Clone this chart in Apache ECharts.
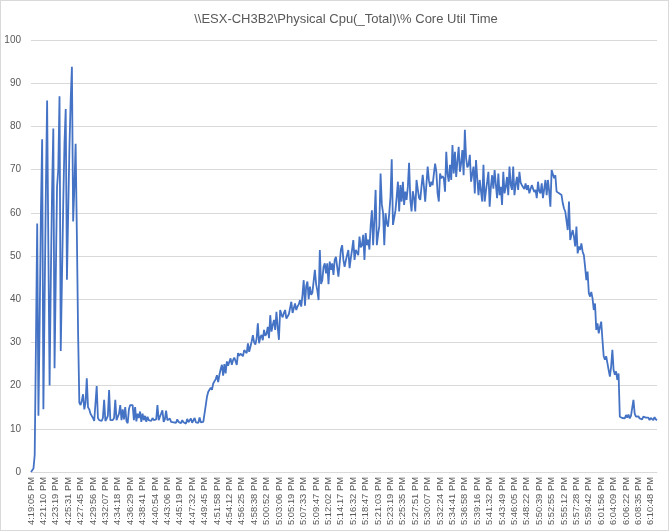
<!DOCTYPE html>
<html>
<head>
<meta charset="utf-8">
<script src="https://cdn.jsdelivr.net/npm/echarts@6/dist/echarts.min.js"></script>
<style>
html,body{margin:0;padding:0;background:#fff;}
#wrap{width:669px;height:531px;box-sizing:border-box;border:1px solid #d9d9d9;position:relative;}
#chart{position:absolute;left:-1px;top:-1px;width:669px;height:531px;}
</style>
</head>
<body>
<div id="wrap"><div id="chart"></div></div>
<script>
const chartTitle = '\\\\ESX-CH3B2\\Physical Cpu(_Total)\\% Core Util Time';
const tickLabels = ['4:19:05 PM','4:21:10 PM','4:23:19 PM','4:25:31 PM','4:27:45 PM','4:29:56 PM','4:32:07 PM','4:34:18 PM','4:36:29 PM','4:38:41 PM','4:40:54 PM','4:43:06 PM','4:45:19 PM','4:47:32 PM','4:49:45 PM','4:51:58 PM','4:54:12 PM','4:56:25 PM','4:58:38 PM','5:00:52 PM','5:03:06 PM','5:05:19 PM','5:07:33 PM','5:09:47 PM','5:12:02 PM','5:14:17 PM','5:16:32 PM','5:18:47 PM','5:21:03 PM','5:23:19 PM','5:25:35 PM','5:27:51 PM','5:30:07 PM','5:32:24 PM','5:34:41 PM','5:36:58 PM','5:39:16 PM','5:41:32 PM','5:43:49 PM','5:46:05 PM','5:48:22 PM','5:50:39 PM','5:52:55 PM','5:55:12 PM','5:57:28 PM','5:59:42 PM','6:01:56 PM','6:04:09 PM','6:06:22 PM','6:08:35 PM','6:10:48 PM'];
const samplesPerTick = 10;

const cpuBurst = [0,0.3,0.8,4,30,57.5,13,35,60,77,14.5,40,65,86,52,20,45,65,79.5,24,45,66,70,87,28,45,62,76,84,44.5,60,75,86,93.8,58,66,76,55,32];
const cpuIdle = [16,15.5,16.5,18,14.5,16,21.7,15,14.5,13.5,
13,12.5,11.8,12.2,19.9,12.5,12,12.2,11.8,12.5,
16.7,11.8,12.3,13,19,12,11.8,12,12.5,16.7,
12,11.8,13.5,15.5,12,14.5,12.2,15,11.8,11.3,
14.5,15.5,15.9,15.5,12,15,11.7,13.5,12.5,14,
11.6,13.5,12,13,11.6,12.8,12,12.3,11.8,12.5,
12,12,12.2,15.5,12,12.8,13,14.3,11.6,12.2,
14.2,12,11.8,12.4,11.6,12,11.5,11.8,11.4,12.2,
11.6,11.8,11.3,12,11.5,11.8,11.2,12.3,11.5,11.7,
12.4,11.4,11.8,12.5,11.5,11.9,11.4,12.6,11.5,11.8,
11.6,12];
const cpuRamp = [15.5,17.5,18.6,18.3,19.5,19.0,20.5,20.2,21.5,22.4,
20.8,22.5,23.8,24.8,22.3,25,22.8,25.6,24.6,25.5,
26.3,24.8,25.9,26.5,26.9,24.8,27.5,26.9,27.4,27.8,
26.8,28.2,28.6,27.5,29.8,27.8,29.0,30.2,31.7,30.0,
29.5,30.9,34.4,29.8,31.2,31.7,30.5,32.9,31.5,32.0,
33.6,31.0,36.3,32.5,34.0,35.2,32.9,37.1,33.5,30.6,
37.5,36.5,35.8,36.8,37.5,35.5,36.0,36.5,36.3,39.4,
36.8,36.8,39.0,37.5,38.3,38.8,39.8,38.3,41.0,44.4,
38.5,43.0,44.1,40.0,42.9,41.0,41.5,41.7,46.8,43.5,
42.0,39.8,51.4,43.5,44.4,47.5,48.3,46.0,48.3,43.5,
48.7,46.8,48.3,45.6,49.1,49.8,47.5,45.2];
const cpuClimb = [48.3,51.5,52.5,49.1,47.5,49.0,50.2,51.4,47.2,49.5,
51.4,53.7,49.1,51.4,51.0,50.2,54.5,52.0,52.5,54.9,
49.1,55.3,52.5,53.8,51.5,57,60.6,52.5,58.3,65.3,
52.5,55.0,57.0,69.1,62.0,60.0,52.5,59.9,57.6,56.8,
59.9,63.7,72.4,57.2,57.6,60.5,63.7,67.2,60.3,66.4,
62.6,67.2,61.8,64.9,63.0,66.0,71.6,63.0,60.3,65.0,
63.5,60.3,67.6,65.5,63.5,63.0,66.0,68.8,66.0,62.6,
62.6,70.7,67.5,66.0,67.2,66.4,69.0,71.4,69.5,64.5,
62.6,69.1,68.0,68.5,68.0,64.9,74.1,69.0,67.2,71.1,
67.6,75.7,69.1,74.1,68.3,72.0,75.3];
const cpuPlateau = [69.5,71.5,74.5,68.7,79.2,72.6,70.5,71.1,73.4,67.2,
69.0,70.7,64.5,72.2,68.0,64.1,67.6,65.0,62.6,71.1,
62.6,65.0,67.2,69.5,61.4,66.0,68.7,65.6,69.9,66.5,
63.4,69.1,64.1,66.0,61.8,69.5,64.5,66.0,68.3,64.1,
70.7,66.5,65.3,70.7,64.1,66.5,68.3,65.3,69.5,67.0,
66.4,66.8,65.5,66.8,65.3,66.4,64.5,65.5,66.4,65.6,
64.8,65.3,63.4,67.2,65.0,64.5,66.8,63.4,65.5,67.6,
64.1,67.6,65.0,61.4,69.9,69.5,68.0,68.7,64.9,65.0];
const cpuDecline = [64.5,64.5,64.1,62.2,61.0,60.3,59.9,56.0,62.6,53.7,
54.9,56.0,54.5,52.2,56.8,50.6,52.2,51.4,52.9,51.0,
50.2,47.5,44.4,46.4,41.4,40.6,41.7,40.2,37.5,39.0,
32.9,34.4,32.1,33.6,34.8,30.6,26.8,26.0,26.8,25.2,
23.6,22.1,24.4,28.3,23.6,22.5,23.3,21.3,22.8];
const cpuTail = [12.8,12.7,12.5,12.9,12.4,13.2,12.6,13.3,12.4,13.0,12.6,
16.7,13.5,12.8,12.4,12.9,12.4,12.7,12.2,12.8,12.4,
12.6,12.2,12.6,12.0,12.5,12.3,12.0,12.7,12.2,12.0];

const values = [].concat(cpuBurst, cpuIdle, cpuRamp, cpuClimb, cpuPlateau, cpuDecline, cpuTail);
const categories = values.map((v, i) => (i % samplesPerTick === 0 && tickLabels[i / samplesPerTick]) ? tickLabels[i / samplesPerTick] : '');

const chart = echarts.init(document.getElementById('chart'), null, {renderer: 'canvas'});
chart.setOption({
  animation: false,
  backgroundColor: 'transparent',
  graphic: [{
    type: 'text',
    x: 346,
    y: 19,
    style: {
      text: chartTitle,
      align: 'center',
      verticalAlign: 'middle',
      fontFamily: 'Liberation Sans',
      fontSize: 13,
      fill: '#595959'
    }
  }],
  grid: {left: 31, right: 12, top: 40, bottom: 59, containLabel: false},
  xAxis: {
    type: 'category',
    data: categories,
    boundaryGap: false,
    axisLine: {lineStyle: {color: '#d9d9d9', width: 1}},
    axisTick: {show: false},
    axisLabel: {
      interval: samplesPerTick - 1,
      rotate: 90,
      fontFamily: 'Liberation Sans',
      fontSize: 9.4,
      color: '#595959',
      margin: 5
    },
    splitLine: {show: false}
  },
  yAxis: {
    type: 'value',
    min: 0,
    max: 100,
    interval: 10,
    axisLine: {show: false},
    axisTick: {show: false},
    axisLabel: {fontFamily: 'Liberation Sans', fontSize: 10, color: '#595959', margin: 10},
    splitLine: {lineStyle: {color: '#d9d9d9', width: 1}}
  },
  series: [{
    type: 'line',
    data: values,
    showSymbol: false,
    symbol: 'none',
    lineStyle: {color: '#4472C4', width: 1.8},
    itemStyle: {color: '#4472C4'}
  }]
});
</script>
</body>
</html>
